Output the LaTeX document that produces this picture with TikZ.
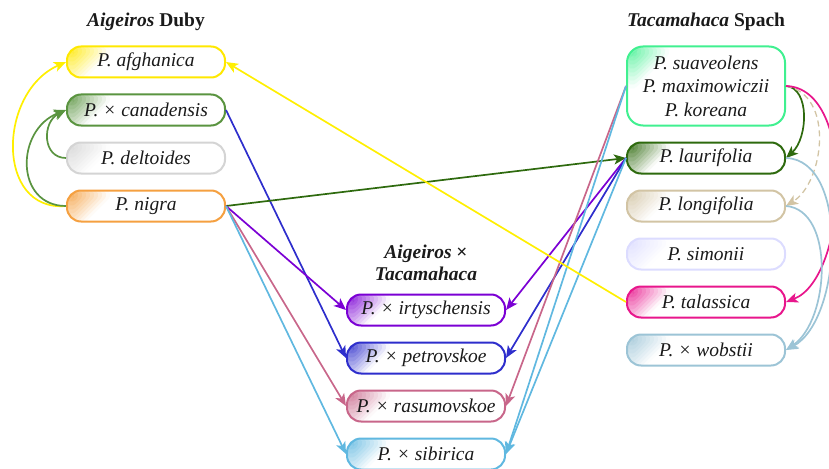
\documentclass[tikz,border=0pt]{standalone}
\usepackage{fontspec}
\setmainfont{Liberation Serif}
\usetikzlibrary{arrows.meta}
\definecolor{cyel}{HTML}{FFEF00}
\definecolor{cyelb}{HTML}{FFE800}
\definecolor{cgrn}{HTML}{5A9440}
\definecolor{cgray}{HTML}{D4D4D4}
\definecolor{corg}{HTML}{F5A040}
\definecolor{cmint}{HTML}{40F090}
\definecolor{cdgrn}{HTML}{2E6A0E}
\definecolor{ctan}{HTML}{D2C4A4}
\definecolor{clav}{HTML}{DCDCFF}
\definecolor{cmag}{HTML}{E8168C}
\definecolor{csteel}{HTML}{9CC4D6}
\definecolor{cvio}{HTML}{7B00D4}
\definecolor{cblue}{HTML}{2E2ECC}
\definecolor{cpink}{HTML}{C8668A}
\definecolor{csky}{HTML}{60B8E0}
\definecolor{ctext}{HTML}{1A1A1A}
\tikzset{
  sp/.style={draw=#1, line width=2pt, rounded corners=14pt,
    minimum width=158pt, minimum height=31pt, inner sep=0pt,
    text=ctext, font=\fontsize{19.5}{23.5}\selectfont\itshape, fill=white,
    path picture={\foreach \dd/\pp in {50/4,46/12,42/20,38/28,34/36,30/44,26/52,22/60,18/68,14/76,10/84,6/92}{
      \fill[#1!\pp] (path picture bounding box.north west) -- ++(\dd pt,0pt) -- ++(-\dd pt,-\dd pt) -- cycle;}}},
  ttl/.style={text=ctext, font=\fontsize{19.5}{22}\selectfont\bfseries, align=center, inner sep=0pt},
  arr/.style={-{Stealth[length=12pt,width=10pt,inset=3pt]}, line width=1.7pt},
}
\begin{document}
\begin{tikzpicture}[x=1pt,y=-1pt]
\useasboundingbox (0,0) rectangle (829,468);
% titles
\node[ttl] (tA) at (146,22) {\textit{Aigeiros} Duby};
\node[ttl] (tT) at (706,22) {\textit{Tacamahaca} Spach};
\node[ttl] (tM) at (426,263) {\textit{Aigeiros} ×\\[0pt]\textit{Tacamahaca}};
% left column
\node[sp=cyelb] (afg) at (146,62) {P. afghanica};
\node[sp=cgrn] (can) at (146,110) {P. × canadensis};
\node[sp=cgray] (del) at (146,158) {P. deltoides};
\node[sp=corg] (nig) at (146,206) {P. nigra};
% middle column
\node[sp=cvio] (irt) at (426,310) {P. × irtyschensis};
\node[sp=cblue] (pet) at (426,358) {P. × petrovskoe};
\node[sp=cpink] (ras) at (426,406) {P. × rasumovskoe};
\node[sp=csky] (sib) at (426,454) {P. × sibirica};
% right column
\node[sp=cmint, minimum height=79pt, rounded corners=16pt, align=center] (sua) at (706,86)
  {P. suaveolens\\P. maximowiczii\\P. koreana};
\node[sp=cdgrn] (lau) at (706,158) {P. laurifolia};
\node[sp=ctan] (lon) at (706,206) {P. longifolia};
\node[sp=clav] (sim) at (706,254) {P. simonii};
\node[sp=cmag] (tal) at (706,302) {P. talassica};
\node[sp=csteel] (wob) at (706,350) {P. × wobstii};
% left curves
\draw[arr, cyel] (nig.west) .. controls (-5,212) and (-2,92) .. (afg.west);
\draw[arr, cgrn] (nig.west) .. controls (15,206) and (15,130) .. (can.west);
\draw[arr, cgrn] (del.west) .. controls (42,158) and (42,122) .. (can.west);
% straight connectors
\draw[arr, cblue] (can.east) -- (pet.west);
\draw[arr, cdgrn] (nig.east) -- (lau.west);
\draw[arr, cvio] (nig.east) -- (irt.west);
\draw[arr, cpink] (nig.east) -- (ras.west);
\draw[arr, csky] (nig.east) -- (sib.west);
\draw[arr, cvio] (lau.west) -- (irt.east);
\draw[arr, cblue] (lau.west) -- (pet.east);
\draw[arr, csky] (lau.west) -- (sib.east);
\draw[arr, cpink] (sua.west) -- (ras.east);
\draw[arr, csky] (sua.west) -- (sib.east);
\draw[arr, cyel] (tal.west) -- (afg.east);
% right curves
\draw[arr, cdgrn] (sua.east) .. controls (810,88) and (808,138) .. (lau.east);
\draw[arr, ctan, dash pattern=on 6pt off 4pt, line width=1.3pt] (sua.east) .. controls (835,95) and (824,182) .. (lon.east);
\draw[arr, cmag] (sua.east) .. controls (858,88) and (848,278) .. (tal.east);
\draw[arr, csteel] (lau.east) .. controls (850,160) and (842,320) .. (wob.east);
\draw[arr, csteel] (lon.east) .. controls (835,210) and (830,320) .. (wob.east);
\end{tikzpicture}
\end{document}
